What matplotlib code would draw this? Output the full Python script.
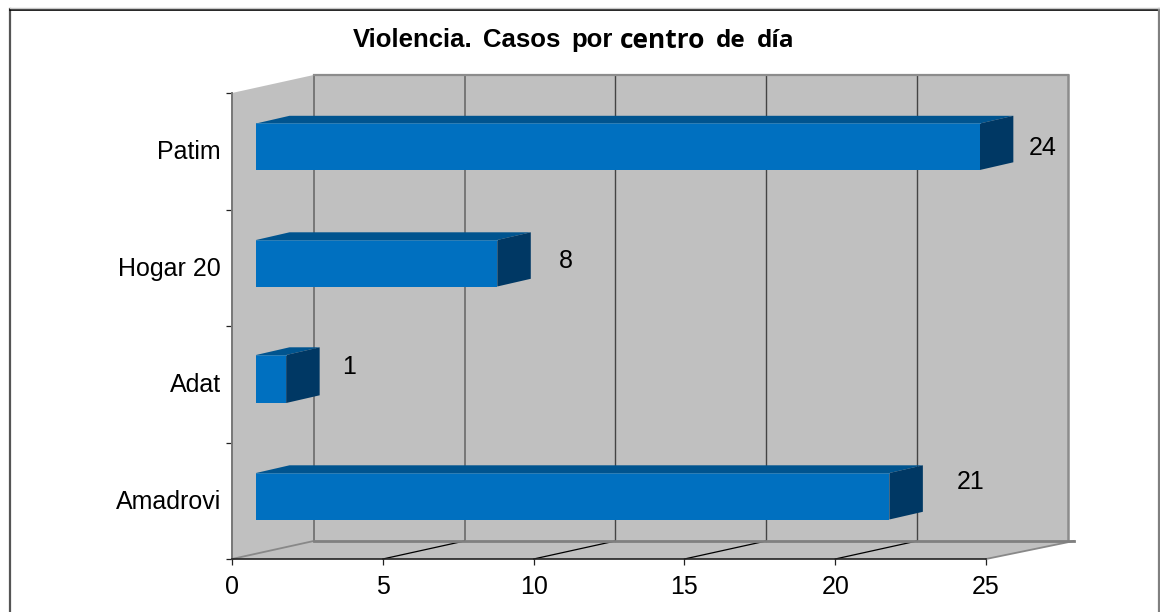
import matplotlib
matplotlib.use('Agg')
import matplotlib.pyplot as plt
from matplotlib.patches import Polygon
from matplotlib.transforms import ScaledTranslation

W, H = 1160, 612

# --- data ---
categories = ['Amadrovi', 'Adat', 'Hogar 20', 'Patim']
values = [21, 1, 8, 24]
x_ticks = [0, 5, 10, 15, 20, 25]

# manual label nudges in the original, in pixels (dx from bar end, dy upward from bar centre)
label_dx = [81, 63, 69, 63]
label_dy = [14, 13, 2.5, -1.5]
# the Adat bar is drawn a little taller than the rest
bar_extra = [0, 1.5, 0, 0]

# --- layout in pixels ---
LEFT, RIGHT, TOP, BOTTOM = 232, 986, 93, 559
PX_X = (RIGHT - LEFT) / 25
PX_Y = (BOTTOM - TOP) / 4

WALL_DX, WALL_DY = 81.7 / PX_X, 18 / PX_Y
BAR_X0 = 24 / PX_X
BAR_DX, BAR_DY = 33.5 / PX_X, 7.7 / PX_Y
BAR_H = 46.5 / PX_Y
BAR_SHIFT = 4.5 / PX_Y

WALL = '#C0C0C0'
FRONT = '#0070C0'
TOP_FACE = '#00548F'
SIDE = '#003864'
LABEL_SIZE = 18


def px_x(x):
    return x / W


def px_y(y):
    return 1 - y / H


plt.rcParams['font.family'] = ['Liberation Sans', 'DejaVu Sans']

fig = plt.figure(figsize=(W / 100, H / 100), dpi=100, facecolor='white')
ax = fig.add_axes([px_x(LEFT), px_y(BOTTOM), (RIGHT - LEFT) / W, (BOTTOM - TOP) / H])
ax.set_xlim(0, 25)
ax.set_ylim(-0.5, 3.5)
ax.patch.set_visible(False)

# outer frame, the bottom edge is cut off in the original
fig.add_artist(plt.Line2D([px_x(10), px_x(10)], [px_y(9), 0], color='#555555', lw=1.6))
fig.add_artist(plt.Line2D([px_x(10), px_x(1159)], [px_y(9.5), px_y(9.5)], color='black', lw=1.2))
fig.add_artist(plt.Line2D([px_x(1159), px_x(1159)], [px_y(9), 0], color='#808080', lw=1.6))
fig.add_artist(plt.Line2D([px_x(10), px_x(1159)], [px_y(7.5), px_y(7.5)], color='#C8C8C8', lw=1))

y0, y1 = -0.5, 3.5
xw, yw = WALL_DX, WALL_DY
SPIKE = 0.2

# walls and floor
ax.add_patch(Polygon([(xw, y0 + yw), (25 + xw, y0 + yw), (25 + xw, y1 + yw), (xw, y1 + yw)],
                     fc=WALL, ec='none', clip_on=False, zorder=1))
ax.add_patch(Polygon([(0, y0), (xw, y0 + yw), (xw, y1 + yw), (0, y1)],
                     fc=WALL, ec='none', clip_on=False, zorder=1))
ax.add_patch(Polygon([(0, y0), (25, y0), (25 + SPIKE + xw, y0 + yw), (xw, y0 + yw)],
                     fc=WALL, ec='none', clip_on=False, zorder=1))

# back wall gridlines
for i, t in enumerate(x_ticks[:-1]):
    col = '#777777' if i < 2 else '#444444'
    lw = 1.4 if i < 2 else 1.0
    ax.plot([t + xw, t + xw], [y0 + yw, y1 + yw], color=col, lw=lw, clip_on=False, zorder=2)

# floor gridlines
for t in x_ticks[1:-1]:
    ax.plot([t, t + xw], [y0, y0 + yw], color='black', lw=0.9, clip_on=False, zorder=2)
ax.plot([0, xw], [y0, y0 + yw], color='#888888', lw=1.3, clip_on=False, zorder=2)
ax.plot([25, 25 + xw + SPIKE], [y0, y0 + yw], color='#888888', lw=1.3, clip_on=False, zorder=2)

# wall outline
ax.plot([xw, 25 + xw], [y1 + yw, y1 + yw], color='#8C8C8C', lw=1.6, clip_on=False, zorder=2)
ax.plot([25 + xw, 25 + xw], [y1 + yw, y0 + yw], color='#8C8C8C', lw=1.8, clip_on=False, zorder=2)
ax.plot([xw, 25 + SPIKE + xw], [y0 + yw, y0 + yw], color='#808080', lw=2, clip_on=False, zorder=2)

# bars
for i, (name, v) in enumerate(zip(categories, values)):
    c = i + BAR_SHIFT
    b, t = c - BAR_H / 2, c + BAR_H / 2 + bar_extra[i] / PX_Y
    x0, x1 = BAR_X0, BAR_X0 + v
    ax.add_patch(Polygon([(x0, t), (x1, t), (x1 + BAR_DX, t + BAR_DY), (x0 + BAR_DX, t + BAR_DY)],
                         fc=TOP_FACE, ec='none', clip_on=False, zorder=3))
    ax.add_patch(Polygon([(x1, b), (x1 + BAR_DX, b + BAR_DY), (x1 + BAR_DX, t + BAR_DY), (x1, t)],
                         fc=SIDE, ec='none', clip_on=False, zorder=3))
    ax.add_patch(Polygon([(x0, b), (x1, b), (x1, t), (x0, t)],
                         fc=FRONT, ec='none', clip_on=False, zorder=4))
    ax.plot([x0, x1], [t, t], color='#2F7FB5', lw=0.7, clip_on=False, zorder=5)
    ax.annotate(str(v), (x1, c), xytext=(label_dx[i] * 0.72, label_dy[i] * 0.72),
                textcoords='offset points', ha='center', va='center', fontsize=LABEL_SIZE,
                color='black', zorder=5, annotation_clip=False)

# axes
for s in ('top', 'right'):
    ax.spines[s].set_visible(False)
ax.spines['left'].set_color('#777777')
ax.spines['left'].set_linewidth(1.4)
ax.spines['bottom'].set_color('#222222')
ax.spines['bottom'].set_linewidth(1.2)
for s in ax.spines.values():
    s.set_zorder(3)

ax.set_xticks(x_ticks)
ax.set_yticks([k - 0.5 for k in range(5)])
ax.set_yticklabels([])
ax.set_yticks(range(4), categories, minor=True)
ax.tick_params(axis='x', length=4.5, width=0.9, color='#222222', pad=7, labelsize=LABEL_SIZE)
ax.tick_params(axis='y', which='major', length=4.5, width=0.9, color='#222222')
ax.tick_params(axis='y', which='minor', length=0, pad=8, labelsize=LABEL_SIZE)
up = ScaledTranslation(0, 1.5 / 100, fig.dpi_scale_trans)
for lab in ax.get_yticklabels(minor=True):
    lab.set_transform(lab.get_transform() + up)

# the title changes font half way in the original, so place it word by word
for word, x in [('Violencia.', 353), ('Casos', 483), ('por', 571)]:
    fig.text(px_x(x), px_y(46.7), word, fontsize=18.5, fontweight='bold', va='baseline')
fig.text(px_x(620), px_y(48), 'centro', family='Open Sans', fontsize=19, fontweight='bold', va='baseline')
fig.text(px_x(716), px_y(46.7), 'de', family='Open Sans', fontsize=17.5, fontweight='bold', va='baseline')
fig.text(px_x(757), px_y(46.7), 'día', family='Open Sans', fontsize=17.5, fontweight='bold', va='baseline')

fig.savefig('out.png', dpi=100)
